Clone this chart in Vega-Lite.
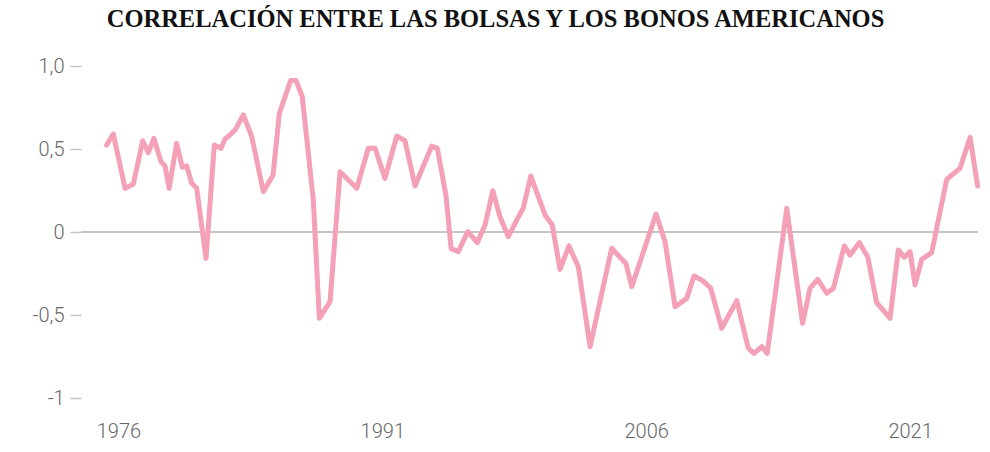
{
  "$schema": "https://vega.github.io/schema/vega-lite/v6.json",
  "width": 897,
  "height": 332,
  "autosize": {"type": "none"},
  "padding": {"left": 81, "top": 66, "right": 12, "bottom": 54},
  "background": "white",
  "title": {
    "text": "CORRELACIÓN ENTRE LAS BOLSAS Y LOS BONOS AMERICANOS",
    "font": "Liberation Serif",
    "fontWeight": "bold",
    "fontSize": 24.5,
    "color": "#111111",
    "anchor": "middle",
    "frame": "group",
    "dx": -34,
    "offset": 24
  },
  "config": {
    "view": {"stroke": null},
    "axis": {"labelFont": "Roboto", "labelFontWeight": 300, "labelFontSize": 20, "labelColor": "#666666", "domain": false, "grid": false}
  },
  "data": {
    "values": [
      {"year": 1975.33, "corr": 0.524},
      {"year": 1975.71, "corr": 0.59},
      {"year": 1976.38, "corr": 0.263},
      {"year": 1976.85, "corr": 0.289},
      {"year": 1977.38, "corr": 0.55},
      {"year": 1977.70, "corr": 0.478},
      {"year": 1978.02, "corr": 0.564},
      {"year": 1978.42, "corr": 0.424},
      {"year": 1978.65, "corr": 0.398},
      {"year": 1978.88, "corr": 0.263},
      {"year": 1979.31, "corr": 0.534},
      {"year": 1979.63, "corr": 0.39},
      {"year": 1979.88, "corr": 0.398},
      {"year": 1980.17, "corr": 0.293},
      {"year": 1980.45, "corr": 0.263},
      {"year": 1980.98, "corr": -0.159},
      {"year": 1981.45, "corr": 0.524},
      {"year": 1981.83, "corr": 0.504},
      {"year": 1982.06, "corr": 0.56},
      {"year": 1982.34, "corr": 0.584},
      {"year": 1982.63, "corr": 0.614},
      {"year": 1983.10, "corr": 0.705},
      {"year": 1983.58, "corr": 0.574},
      {"year": 1984.24, "corr": 0.243},
      {"year": 1984.79, "corr": 0.343},
      {"year": 1985.15, "corr": 0.715},
      {"year": 1985.79, "corr": 0.912},
      {"year": 1986.10, "corr": 0.912},
      {"year": 1986.45, "corr": 0.815},
      {"year": 1987.08, "corr": 0.193},
      {"year": 1987.42, "corr": -0.52},
      {"year": 1988.03, "corr": -0.42},
      {"year": 1988.60, "corr": 0.363},
      {"year": 1989.55, "corr": 0.263},
      {"year": 1990.20, "corr": 0.504},
      {"year": 1990.59, "corr": 0.504},
      {"year": 1991.15, "corr": 0.323},
      {"year": 1991.82, "corr": 0.578},
      {"year": 1992.29, "corr": 0.55},
      {"year": 1992.86, "corr": 0.277},
      {"year": 1993.81, "corr": 0.518},
      {"year": 1994.13, "corr": 0.504},
      {"year": 1994.62, "corr": 0.22},
      {"year": 1994.91, "corr": -0.10},
      {"year": 1995.32, "corr": -0.118},
      {"year": 1995.86, "corr": 0.002},
      {"year": 1996.40, "corr": -0.064},
      {"year": 1996.84, "corr": 0.042},
      {"year": 1997.28, "corr": 0.249},
      {"year": 1997.69, "corr": 0.092},
      {"year": 1998.16, "corr": -0.028},
      {"year": 1998.64, "corr": 0.072},
      {"year": 1999.01, "corr": 0.143},
      {"year": 1999.44, "corr": 0.337},
      {"year": 1999.87, "corr": 0.213},
      {"year": 2000.25, "corr": 0.102},
      {"year": 2000.66, "corr": 0.042},
      {"year": 2001.10, "corr": -0.225},
      {"year": 2001.61, "corr": -0.084},
      {"year": 2002.14, "corr": -0.209},
      {"year": 2002.81, "corr": -0.691},
      {"year": 2003.47, "corr": -0.37},
      {"year": 2004.04, "corr": -0.098},
      {"year": 2004.40, "corr": -0.14},
      {"year": 2004.85, "corr": -0.19},
      {"year": 2005.18, "corr": -0.329},
      {"year": 2006.56, "corr": 0.108},
      {"year": 2007.07, "corr": -0.058},
      {"year": 2007.64, "corr": -0.45},
      {"year": 2008.30, "corr": -0.40},
      {"year": 2008.72, "corr": -0.265},
      {"year": 2009.21, "corr": -0.293},
      {"year": 2009.67, "corr": -0.339},
      {"year": 2010.29, "corr": -0.58},
      {"year": 2011.15, "corr": -0.414},
      {"year": 2011.80, "corr": -0.70},
      {"year": 2012.13, "corr": -0.731},
      {"year": 2012.57, "corr": -0.691},
      {"year": 2012.88, "corr": -0.731},
      {"year": 2013.99, "corr": 0.143},
      {"year": 2014.89, "corr": -0.55},
      {"year": 2015.31, "corr": -0.339},
      {"year": 2015.75, "corr": -0.285},
      {"year": 2016.26, "corr": -0.369},
      {"year": 2016.64, "corr": -0.339},
      {"year": 2017.26, "corr": -0.084},
      {"year": 2017.59, "corr": -0.139},
      {"year": 2018.11, "corr": -0.064},
      {"year": 2018.59, "corr": -0.149},
      {"year": 2019.10, "corr": -0.426},
      {"year": 2019.86, "corr": -0.52},
      {"year": 2020.33, "corr": -0.108},
      {"year": 2020.67, "corr": -0.153},
      {"year": 2021.00, "corr": -0.118},
      {"year": 2021.28, "corr": -0.319},
      {"year": 2021.66, "corr": -0.165},
      {"year": 2022.23, "corr": -0.124},
      {"year": 2023.08, "corr": 0.317},
      {"year": 2023.84, "corr": 0.384},
      {"year": 2024.41, "corr": 0.57},
      {"year": 2024.84, "corr": 0.277}
    ]
  },
  "layer": [
    {
      "mark": {"type": "rule", "color": "#c4c4c4", "strokeWidth": 1.5},
      "encoding": {"y": {"datum": 0, "type": "quantitative"}}
    },
    {
      "mark": {"type": "line", "color": "#f4a0b6", "strokeWidth": 5, "strokeJoin": "round", "strokeCap": "round"},
      "encoding": {
        "x": {
          "field": "year",
          "type": "quantitative",
          "scale": {"domain": [1973.874, 2024.86], "nice": false, "zero": false},
          "axis": {"title": null, "values": [1976, 1991, 2006, 2021], "format": "d", "ticks": false, "tickSize": 0, "labelPadding": 23, "labelBaseline": "top"}
        },
        "y": {
          "field": "corr",
          "type": "quantitative",
          "scale": {"domain": [-1, 1], "nice": false},
          "axis": {
            "title": null,
            "values": [-1, -0.5, 0, 0.5, 1],
            "labelExpr": "datum.value == 1 ? '1,0' : datum.value == 0.5 ? '0,5' : datum.value == -0.5 ? '-0,5' : datum.value == -1 ? '-1' : '0'",
            "ticks": true,
            "tickSize": 11,
            "tickColor": "#c4c4c4",
            "tickWidth": 1.5,
            "labelPadding": 6
          }
        }
      }
    }
  ]
}
